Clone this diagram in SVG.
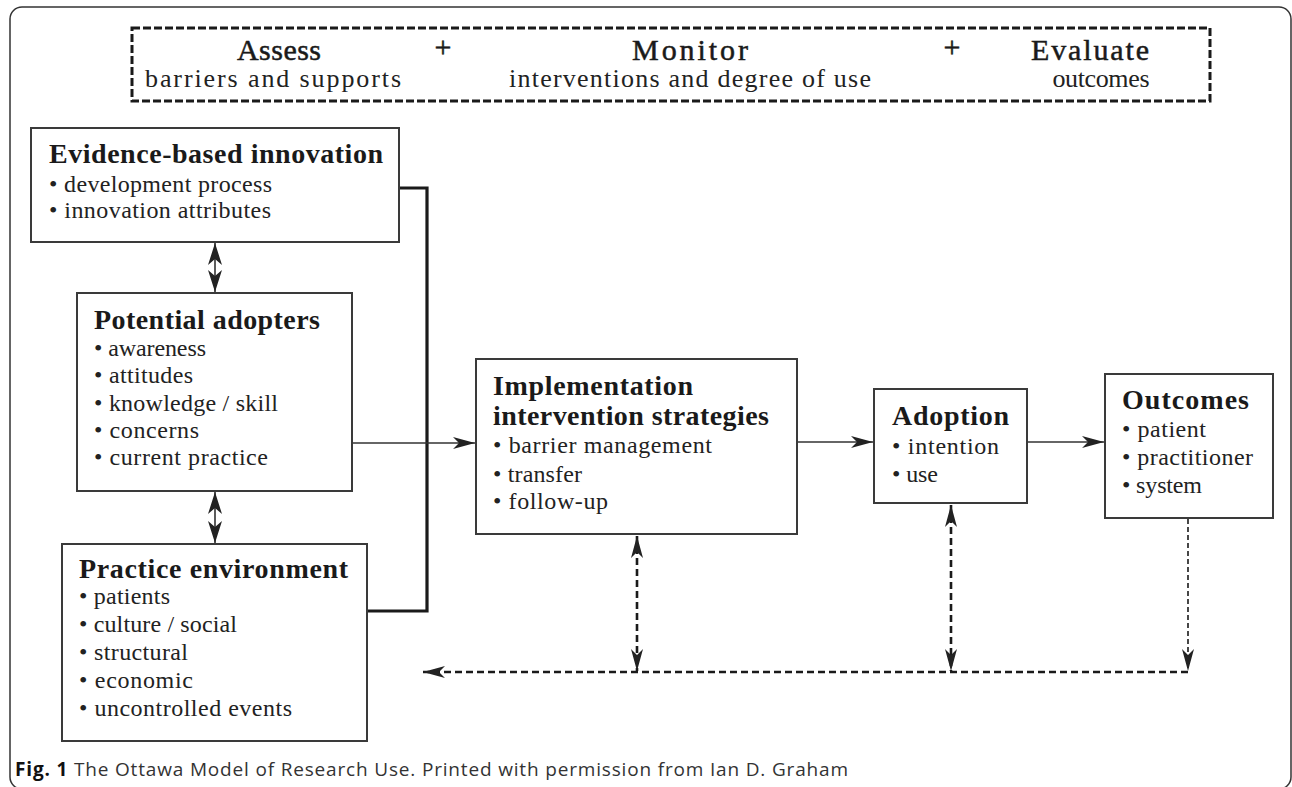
<svg xmlns="http://www.w3.org/2000/svg" width="1292" height="787" viewBox="0 0 1292 787">
<style>
.box{fill:#fff;stroke:#3a3a3a;stroke-width:2}
.t{font-family:"Liberation Serif","Times New Roman",serif;font-weight:bold;font-size:28px;fill:#1a1a1a}
.b{font-family:"Liberation Serif","Times New Roman",serif;font-size:24px;fill:#222}
.h{font-family:"Liberation Serif","Times New Roman",serif;font-size:30px;fill:#1a1a1a;stroke:#1a1a1a;stroke-width:0.5}
.s{font-family:"Liberation Serif","Times New Roman",serif;font-size:26px;fill:#222}
.solid{fill:none;stroke:#333;stroke-width:1.6}
.dash{fill:none;stroke:#1a1a1a;stroke-width:2.6;stroke-dasharray:7 4}
.cap{font-family:"Open Sans","Liberation Sans",sans-serif;font-size:19px;fill:#333}
</style>
<defs>
<marker id="ah" viewBox="0 0 22 12" refX="22" refY="6" markerWidth="22" markerHeight="12" markerUnits="userSpaceOnUse" orient="auto-start-reverse">
<path d="M0,0 L22,6 L0,12 L6,6 Z" fill="#222"/>
</marker>
<marker id="ab" viewBox="0 0 22 14" refX="22" refY="7" markerWidth="22" markerHeight="14" markerUnits="userSpaceOnUse" orient="auto-start-reverse">
<path d="M0,0 L22,7 L0,14 L6,7 Z" fill="#222"/>
</marker>
</defs>
<rect width="1292" height="787" fill="#fff"/>
<rect x="10" y="7" width="1281" height="782" rx="12" fill="none" stroke="#333" stroke-width="1.5"/>

<g id="header">
<rect x="132" y="28" width="1078" height="73" fill="none" stroke="#1a1a1a" stroke-width="3" stroke-dasharray="8 3"/>
<text class="h" x="279" y="60" text-anchor="middle" textLength="84">Assess</text>
<text class="h" x="443" y="57" text-anchor="middle">+</text>
<text class="h" x="690" y="60" text-anchor="middle" textLength="116">Monitor</text>
<text class="h" x="952" y="57" text-anchor="middle">+</text>
<text class="h" x="1090" y="60" text-anchor="middle" textLength="118">Evaluate</text>
<text class="s" x="273" y="87" text-anchor="middle" textLength="256">barriers and supports</text>
<text class="s" x="690" y="87" text-anchor="middle" textLength="362">interventions and degree of use</text>
<text class="s" x="1101" y="87" text-anchor="middle" textLength="97">outcomes</text>
</g>

<g id="connectors">
<path class="solid" d="M398,188 H427 V611 H367" style="stroke:#1a1a1a;stroke-width:3.2"/>
<line class="solid" x1="215" y1="243" x2="215" y2="292" marker-start="url(#ab)" marker-end="url(#ab)"/>
<line class="solid" x1="215" y1="492" x2="215" y2="543" marker-start="url(#ab)" marker-end="url(#ab)"/>
<line class="solid" x1="352" y1="443" x2="475" y2="443" marker-end="url(#ah)"/>
<line class="solid" x1="797" y1="442" x2="873" y2="442" marker-end="url(#ah)"/>
<line class="solid" x1="1027" y1="442" x2="1104" y2="442" marker-end="url(#ah)"/>
<line class="dash" x1="637" y1="536" x2="637" y2="671" marker-start="url(#ah)" marker-end="url(#ah)"/>
<line class="dash" x1="951" y1="505" x2="951" y2="671" marker-start="url(#ah)" marker-end="url(#ah)"/>
<line class="dash" x1="1188" y1="519" x2="1188" y2="671" style="stroke-width:1.6;stroke-dasharray:5 3" marker-end="url(#ah)"/>
<line class="dash" x1="1188" y1="672" x2="423" y2="672" marker-end="url(#ah)"/>
</g>

<g id="evidence">
<rect class="box" x="31" y="128" width="368" height="114"/>
<text class="t" x="49" y="163" textLength="334">Evidence-based innovation</text>
<text class="b" x="49" y="192" textLength="223">• development process</text>
<text class="b" x="49" y="218" textLength="222">• innovation attributes</text>
</g>

<g id="adopters">
<rect class="box" x="77" y="293" width="275" height="198"/>
<text class="t" x="94" y="329" textLength="226">Potential adopters</text>
<text class="b" x="94" y="356" textLength="112">• awareness</text>
<text class="b" x="94" y="383" textLength="99">• attitudes</text>
<text class="b" x="94" y="411" textLength="184">• knowledge / skill</text>
<text class="b" x="94" y="438" textLength="105">• concerns</text>
<text class="b" x="94" y="465" textLength="174">• current practice</text>
</g>

<g id="environment">
<rect class="box" x="62" y="544" width="305" height="197"/>
<text class="t" x="79" y="578" textLength="269">Practice environment</text>
<text class="b" x="79" y="604" textLength="91">• patients</text>
<text class="b" x="79" y="632" textLength="158">• culture / social</text>
<text class="b" x="79" y="660" textLength="109">• structural</text>
<text class="b" x="79" y="688" textLength="114">• economic</text>
<text class="b" x="79" y="716" textLength="213">• uncontrolled events</text>
</g>

<g id="implementation">
<rect class="box" x="476" y="359" width="321" height="175"/>
<text class="t" x="493" y="395" textLength="200">Implementation</text>
<text class="t" x="493" y="425" textLength="276">intervention strategies</text>
<text class="b" x="493" y="453" textLength="219">• barrier management</text>
<text class="b" x="493" y="482" textLength="89">• transfer</text>
<text class="b" x="493" y="509" textLength="115">• follow-up</text>
</g>

<g id="adoption">
<rect class="box" x="874" y="389" width="153" height="114"/>
<text class="t" x="892" y="425" textLength="117">Adoption</text>
<text class="b" x="892" y="454" textLength="107">• intention</text>
<text class="b" x="892" y="482" textLength="46">• use</text>
</g>

<g id="outcomes">
<rect class="box" x="1105" y="374" width="168" height="144"/>
<text class="t" x="1122" y="409" textLength="127">Outcomes</text>
<text class="b" x="1122" y="437" textLength="84">• patient</text>
<text class="b" x="1122" y="465" textLength="131">• practitioner</text>
<text class="b" x="1122" y="493" textLength="80">• system</text>
</g>

<g id="caption">
<text class="cap" x="15" y="776" textLength="833"><tspan font-weight="bold" fill="#111">Fig. 1</tspan> The Ottawa Model of Research Use. Printed with permission from Ian D. Graham</text>
</g>
</svg>
